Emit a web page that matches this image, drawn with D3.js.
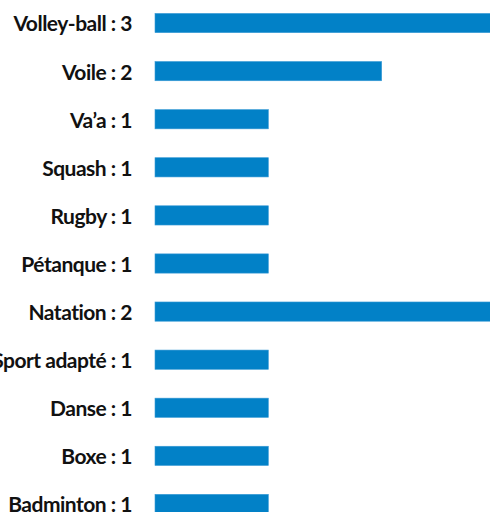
<!DOCTYPE html>
<html>
<head>
<meta charset="utf-8">
<script src="https://cdn.jsdelivr.net/npm/d3@7"></script>
<style>
  body { margin: 0; background: #fff; }
  svg { display: block; }
  .label { font-family: Lato, "Open Sans", sans-serif; font-weight: 700; font-size: 21px; letter-spacing: -0.5px; fill: #111; }
</style>
</head>
<body>
<div id="chart"></div>
<script>
var sports = ["Volley-ball", "Voile", "Va’a", "Squash", "Rugby", "Pétanque", "Natation", "Sport adapté", "Danse", "Boxe", "Badminton"];
// counts shown in the labels
var counts = [3, 2, 1, 1, 1, 1, 2, 1, 1, 1, 1];
// bar lengths as drawn in the picture (Natation is drawn as long as Volley-ball)
var barValues = [3, 2, 1, 1, 1, 1, 3, 1, 1, 1, 1];

var width = 490, height = 512;
var barLeft = 155;

var svg = d3.select("#chart").append("svg")
  .attr("width", width)
  .attr("height", height);

var x = d3.scaleLinear().domain([0, 3]).range([barLeft, barLeft + 340]);
var y = d3.scaleBand().domain(sports).range([-1, 528]).paddingInner(0.6).paddingOuter(0.3);

var rows = svg.selectAll("g.row")
  .data(sports)
  .enter()
  .append("g")
  .attr("class", "row");

rows.append("rect")
  .attr("x", x(0))
  .attr("y", function(d) { return y(d); })
  .attr("width", function(d, i) { return x(barValues[i]) - x(0); })
  .attr("height", y.bandwidth())
  .attr("fill", "#0281c7")
  .attr("stroke", "#3a9bd6")
  .attr("stroke-width", 0.6);

rows.append("text")
  .attr("class", "label")
  .attr("x", 132)
  .attr("y", function(d) { return y(d) + y.bandwidth() / 2; })
  .attr("dy", "0.4em")
  .attr("text-anchor", "end")
  .text(function(d, i) { return d + " : " + counts[i]; });
</script>
</body>
</html>
